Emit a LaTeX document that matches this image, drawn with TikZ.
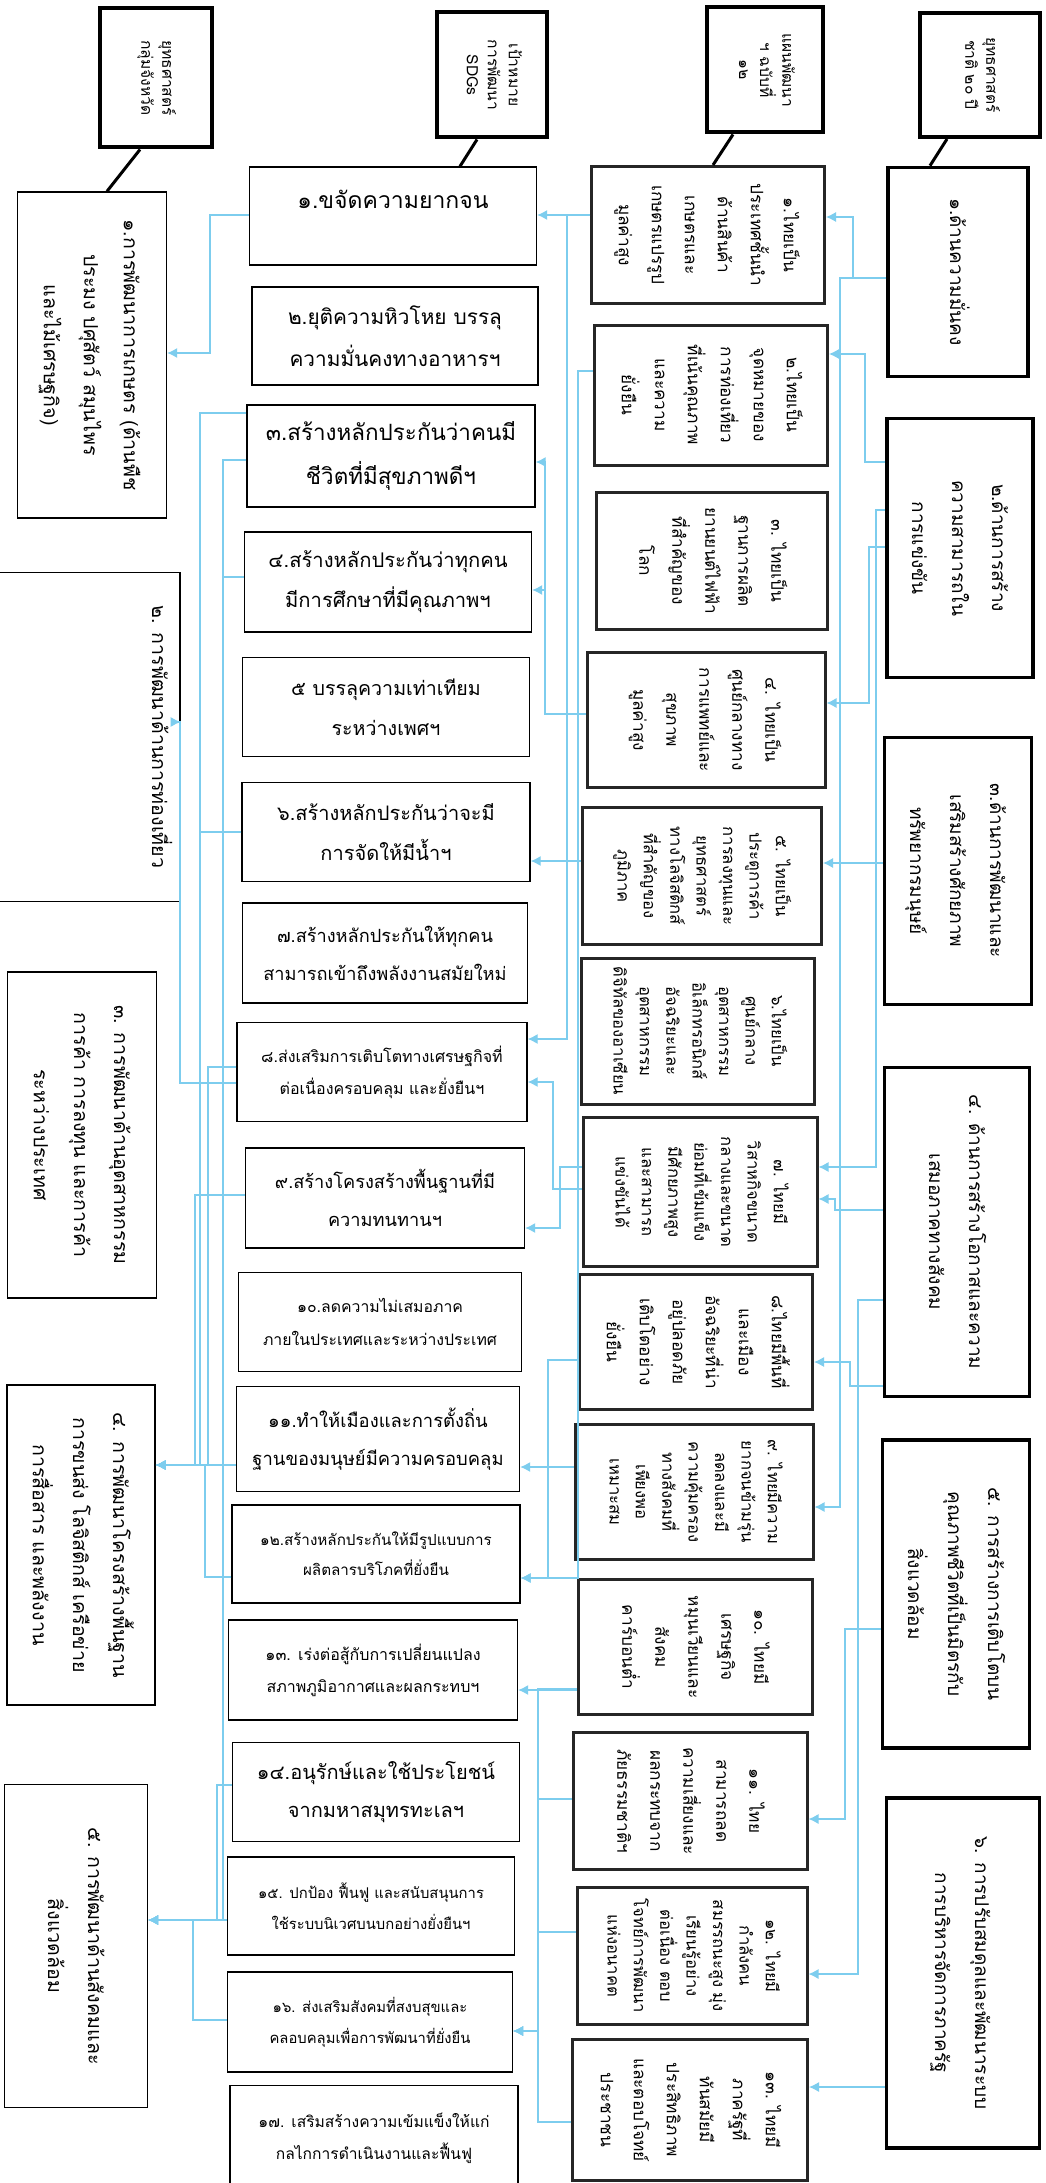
\documentclass[tikz,border=0pt]{standalone}
\usepackage{fontspec}
\usepackage{graphicx}
\newfontfamily\thaifont[Script=Thai]{Loma}
\usetikzlibrary{arrows.meta,calc}
\definecolor{linkblue}{RGB}{125,205,238}
\newcommand{\vtext}[1]{\rotatebox{-90}{\begin{tabular}{@{}c@{}}#1\end{tabular}}}
\newcommand{\tsz}[2]{\thaifont\fontsize{#1}{#2}\selectfont}
\tikzset{
  sz/.style 2 args={minimum width=#1*0.5pt, minimum height=#2*0.5pt},
  hdbox/.style={draw, line width=2pt, inner sep=0pt, font=\thaifont\fontsize{7.8}{10.5}\selectfont},
  stratbox/.style={draw, line width=1.8pt, inner sep=0pt, font=\thaifont\fontsize{9.5}{20}\selectfont},
  planbox/.style={draw=black!85, line width=1.5pt, inner sep=0pt, font=\thaifont\fontsize{8.6}{16.5}\selectfont},
  plansmall/.style={planbox, font=\thaifont\fontsize{8.3}{13.2}\selectfont},
  sdgbox/.style={draw, line width=0.7pt, inner sep=0pt, align=center},
  grpbox/.style={draw, line width=0.7pt, inner sep=0pt, font=\thaifont\fontsize{9.8}{20}\selectfont},
  link/.style={draw=linkblue, line width=0.6pt, -{Latex[length=5pt,width=5pt]}},
  hdline/.style={line width=1.5pt}
}
\begin{document}
\begin{tikzpicture}[x=0.5pt,y=-0.5pt]
  \useasboundingbox (0,0) rectangle (1045,2183);
  \fill[white] (0,0) rectangle (1045,2183);

  % headers
  \node[hdbox, sz={120}{124}] (hd1) at (980,75) {\vtext{ยุทธศาสตร์\\ชาติ ๒๐ ปี}};
  \node[hdbox, sz={116}{125}] (hd2) at (765,70) {\vtext{แผนพัฒนา\\ฯ ฉบับที่\\๑๒}};
  \node[hdbox, sz={110}{125}] (hd3) at (492,75) {\vtext{เป้าหมาย\\การพัฒนา\\SDGs}};
  \node[hdbox, sz={112}{139}] (hd4) at (156,78) {\vtext{ยุทธศาสตร์\\กลุ่มจังหวัด}};

  % national strategy
  \node[stratbox, sz={140}{209}] (s1) at (958,272) {\vtext{๑.ด้านความมั่นคง}};
  \node[stratbox, sz={146}{259}] (s2) at (960,548) {\vtext{๒.ด้านการสร้าง\\ความสามารถใน\\การแข่งขัน}};
  \node[stratbox, sz={147}{267}] (s3) at (958,871) {\vtext{๓.ด้านการพัฒนาและ\\เสริมสร้างศักยภาพ\\ทรัพยากรมนุษย์}};
  \node[stratbox, sz={145}{329}] (s4) at (957,1232) {\vtext{๔. ด้านการสร้างโอกาสและความ\\เสมอภาคทางสังคม}};
  \node[stratbox, sz={147}{308}] (s5) at (956,1594) {\vtext{๕. การสร้างการเติบโตบน\\คุณภาพชีวิตที่เป็นมิตรกับ\\สิ่งแวดล้อม}};
  \node[stratbox, sz={153}{350}] (s6) at (963,1973) {\vtext{๖. การปรับสมดุลและพัฒนาระบบ\\การบริหารจัดการภาครัฐ}};

  % plan 12
  \node[planbox, sz={233}{137}] (p1) at (708,235) {\vtext{๑.ไทยเป็น\\ประเทศชั้นนำ\\ด้านสินค้า\\เกษตรและ\\เกษตรแปรรูป\\มูลค่าสูง}};
  \node[planbox, sz={233}{140}] (p2) at (711,395) {\vtext{๒.ไทยเป็น\\จุดหมายของ\\การท่องเที่ยว\\ที่เน้นคุณภาพ\\และความ\\ยั่งยืน}};
  \node[planbox, sz={231}{137}] (p3) at (712,561) {\vtext{๓. ไทยเป็น\\ฐานการผลิต\\ยานยนต์ไฟฟ้า\\ที่สำคัญของ\\โลก}};
  \node[planbox, sz={238}{135}] (p4) at (706,720) {\vtext{๔. ไทยเป็น\\ศูนย์กลางทาง\\การแพทย์และ\\สุขภาพ\\มูลค่าสูง}};
  \node[plansmall, sz={239}{137}] (p5) at (702,876) {\vtext{๕. ไทยเป็น\\ประตูการค้า\\การลงทุนและ\\ยุทธศาสตร์\\ทางโลจิสติกส์\\ที่สำคัญของ\\ภูมิภาค}};
  \node[plansmall, sz={233}{146}] (p6) at (698,1031) {\vtext{๖.ไทยเป็น\\ศูนย์กลาง\\อุตสาหกรรม\\อิเล็กทรอนิกส์\\อัจฉริยะและ\\อุตสาหกรรม\\ดิจิทัลของอาเซียน}};
  \node[plansmall, sz={234}{149}] (p7) at (700,1192) {\vtext{๗. ไทยมี\\วิสาหกิจขนาด\\กลางและขนาด\\ย่อมที่เข้มแข็ง\\มีศักยภาพสูง\\และสามารถ\\แข่งขันได้}};
  \node[planbox, sz={233}{135}] (p8) at (696,1342) {\vtext{๘.ไทยมีพื้นที่\\และเมือง\\อัจฉริยะที่น่า\\อยู่ปลอดภัย\\เติบโตอย่าง\\ยั่งยืน}};
  \node[plansmall, sz={238}{135}] (p9) at (694,1492) {\vtext{๙. ไทยมีความ\\ยากจนข้ามรุ่น\\ลดลงและมี\\ความคุ้มครอง\\ทางสังคมที่\\เพียงพอ\\เหมาะสม}};
  \node[planbox, sz={234}{135}] (p10) at (695,1647) {\vtext{๑๐. ไทยมี\\เศรษฐกิจ\\หมุนเวียนและ\\สังคม\\คาร์บอนต่ำ}};
  \node[planbox, sz={234}{137}] (p11) at (690,1801) {\vtext{๑๑. ไทย\\สามารถลด\\ความเสี่ยงและ\\ผลกระทบจาก\\ภัยธรรมชาติฯ}};
  \node[plansmall, sz={230}{137}] (p12) at (692,1956) {\vtext{๑๒. ไทยมี\\กำลังคน\\สมรรถนะสูง มุ่ง\\เรียนรู้อย่าง\\ต่อเนื่อง ตอบ\\โจทย์การพัฒนา\\แห่งอนาคต}};
  \node[planbox, sz={235}{141}] (p13) at (690,2110) {\vtext{๑๓. ไทยมี\\ภาครัฐที่\\ทันสมัยมี\\ประสิทธิภาพ\\และตอบโจทย์\\ประชาชน}};

  % SDGs
  \node[sdgbox, sz={287}{98}, font=\tsz{11.5}{21}, text depth=17pt] (g1) at (393,216) {๑.ขจัดความยากจน};
  \node[sdgbox, sz={286}{98}, font=\tsz{10.4}{21}] (g2) at (395,336) {๒.ยุติความหิวโหย บรรลุ\\ความมั่นคงทางอาหารฯ};
  \node[sdgbox, sz={288}{102}, font=\tsz{11.2}{22}] (g3) at (391,456) {๓.สร้างหลักประกันว่าคนมี\\ชีวิตที่มีสุขภาพดีฯ};
  \node[sdgbox, sz={287}{100}, font=\tsz{10.1}{20}] (g4) at (388,582) {๔.สร้างหลักประกันว่าทุกคน\\มีการศึกษาที่มีคุณภาพฯ};
  \node[sdgbox, sz={287}{99}, font=\tsz{9.8}{20}] (g5) at (386,707) {๕ บรรลุความเท่าเทียม\\ระหว่างเพศฯ};
  \node[sdgbox, sz={288}{99}, font=\tsz{10}{20}] (g6) at (386,832) {๖.สร้างหลักประกันว่าจะมี\\การจัดให้มีน้ำฯ};
  \node[sdgbox, sz={285}{100}, font=\tsz{9.1}{19}] (g7) at (385,953) {๗.สร้างหลักประกันให้ทุกคน\\สามารถเข้าถึงพลังงานสมัยใหม่};
  \node[sdgbox, sz={290}{99}, font=\tsz{8}{16}] (g8) at (382,1072) {๘.ส่งเสริมการเติบโตทางเศรษฐกิจที่\\ต่อเนื่องครอบคลุม และยั่งยืนฯ};
  \node[sdgbox, sz={279}{100}, font=\tsz{9.1}{19}] (g9) at (385,1198) {๙.สร้างโครงสร้างพื้นฐานที่มี\\ความทนทานฯ};
  \node[sdgbox, sz={283}{99}, font=\tsz{7.9}{16.5}] (g10) at (380,1322) {๑๐.ลดความไม่เสมอภาค\\ภายในประเทศและระหว่างประเทศ};
  \node[sdgbox, sz={283}{105}, font=\tsz{9.2}{19}] (g11) at (378,1439) {๑๑.ทำให้เมืองและการตั้งถิ่น\\ฐานของมนุษย์มีความครอบคลุม};
  \node[sdgbox, sz={288}{98}, font=\tsz{7.6}{15}] (g12) at (376,1554) {๑๒.สร้างหลักประกันให้มีรูปแบบการ\\ผลิตลารบริโภคที่ยั่งยืน};
  \node[sdgbox, sz={289}{100}, font=\tsz{8}{16}] (g13) at (373,1670) {๑๓. เร่งต่อสู้กับการเปลี่ยนแปลง\\สภาพภูมิอากาศและผลกระทบฯ};
  \node[sdgbox, sz={287}{99}, font=\tsz{10}{19}] (g14) at (376,1792) {๑๔.อนุรักษ์และใช้ประโยชน์\\จากมหาสมุทรทะเลฯ};
  \node[sdgbox, sz={287}{98}, font=\tsz{7.4}{15.5}] (g15) at (371,1906) {๑๕. ปกป้อง ฟื้นฟู และสนับสนุนการ\\ใช้ระบบนิเวศบนบกอย่างยั่งยืนฯ};
  \node[sdgbox, sz={285}{100}, font=\tsz{7.4}{15.5}] (g16) at (370,2022) {๑๖. ส่งเสริมสังคมที่สงบสุขและ\\คลอบคลุมเพื่อการพัฒนาที่ยั่งยืน};
  \node[sdgbox, sz={288}{105}, font=\tsz{7.8}{16}] (g17) at (374,2138) {๑๗. เสริมสร้างความเข้มแข็งให้แก่\\กลไกการดำเนินงานและฟื้นฟู};

  % province group strategy
  \node[grpbox, sz={149}{326}] (grp1) at (92,355) {\vtext{๑.การพัฒนาการเกษตร (ด้านพืช\\ประมง ปศุสัตว์ สมุนไพร\\และไม้เศรษฐกิจ)}};
  \node[grpbox, sz={150}{329}] (grp2) at (80,737) {\vtext{๒. การพัฒนาด้านการท่องเที่ยว\\[80pt]}};
  \node[grpbox, sz={149}{326}] (grp3) at (82,1135) {\vtext{๓. การพัฒนาด้านอุตสาหกรรม\\การค้า การลงทุน และการค้า\\ระหว่างประเทศ}};
  \node[grpbox, sz={148}{320}] (grp4) at (81,1545) {\vtext{๔. การพัฒนาโครงสร้างพื้นฐาน\\การขนส่ง โลจิสติกส์ เครือข่าย\\การสื่อสาร และพลังงาน}};
  \node[grpbox, sz={143}{323}] (grp5) at (76,1946) {\vtext{๕. การพัฒนาด้านสังคมและ\\สิ่งแวดล้อม}};

  \draw[hdline] ($(hd1.south)+(-33,0)$) -- ($(s1.north)+(-28,0)$);
  \draw[hdline] ($(hd2.south)+(-32,0)$) -- ($(p1.north)+(5,0)$);
  \draw[hdline] ($(hd3.south)+(-15,0)$) -- ($(g1.north)+(67,0)$);
  \draw[hdline] ($(hd4.south)+(-16,0)$) -- ($(grp1.north)+(15,0)$);

  % strategy -> plan
  \draw[link] (s1.west |- 0,278) -- (853,278) |- (p1.east |- 0,217);
  \draw[link] (s1.west |- 0,278) -- (840,278) |- (p9.east |- 0,1507);
  \draw[link] (s2.west |- 0,462) -- (865,462) |- (p2.east |- 0,354);
  \draw[link] (s2.west |- 0,547) -- (869,547) |- (p4.east |- 0,703);
  \draw[link] (s2.west |- 0,510) -- (876,510) |- (p7.east |- 0,1167);
  \draw[link] (s3.west |- 0,863) -- (p5.east |- 0,863);
  \draw[link] (s4.west |- 0,1210) -- (835,1210) |- (p7.east |- 0,1199);
  \draw[link] (s4.west |- 0,1386) -- (850,1386) |- (p8.east |- 0,1362);
  \draw[link] (s4.west |- 0,1300) -- (858,1300) |- (p12.east |- 0,1974);
  \draw[link] (s5.west |- 0,1629) -- (845,1629) |- (p11.east |- 0,1819);
  \draw[link] (s6.west |- 0,2087) -- (p13.east |- 0,2087);

  % plan -> SDGs
  \draw[link] (p1.west |- 0,215) -- (g1.east |- 0,215);
  \draw[link] (p1.west |- 0,215) -- (567,215) |- (g8.east |- 0,1039);
  \draw[link] (p2.west |- 0,371) -- (578,371) |- (g12.east |- 0,1578);
  \draw[link] (p4.west |- 0,714) -- (545,714) |- (g3.east |- 0,462);
  \draw[link] (p4.west |- 0,714) -- (545,714) |- (g4.east |- 0,590);
  \draw[link] (p5.west |- 0,861) -- (g6.east |- 0,861);
  \draw[link] (p7.west |- 0,1189) -- (553,1189) |- (g8.east |- 0,1082);
  \draw[link] (p7.west |- 0,1167) -- (560,1167) |- (g9.east |- 0,1228);
  \draw[link] (p8.west |- 0,1360) -- (548,1360) |- (g12.east |- 0,1578);
  \draw[link] (p9.west |- 0,1467) -- (g11.east |- 0,1467);
  \draw[link] (p10.west |- 0,1690) -- (g13.east |- 0,1690);
  \foreach \pp/\yy in {p10/1689,p11/1799,p12/1932,p13/2122}
    \draw[link] (\pp.west |- 0,\yy) -- (538,\yy) |- (g16.east |- 0,2031);

  % SDGs -> group strategy
  \draw[link] (g1.west |- 0,215) -- (210,215) |- (grp1.east |- 0,353);
  \draw[link] (g8.west |- 0,1083) -- (180,1083) |- (grp2.east |- 0,722);
  \draw[link] (g11.west |- 0,1465) -- (grp4.east |- 0,1465);
  \foreach \sd/\yy/\bx in {g3/413/200,g6/832/200,g8/1067/208,g9/1195/195,g12/1577/205}
    \draw[link] (\sd.west |- 0,\yy) -- (\bx,\yy) |- (grp4.east |- 0,1465);
  \draw[link] (g15.west |- 0,1920) -- (grp5.east |- 0,1920);
  \foreach \sd/\yy/\bx in {g3/460/223,g4/577/223,g14/1785/217,g16/2020/193}
    \draw[link] (\sd.west |- 0,\yy) -- (\bx,\yy) |- (grp5.east |- 0,1920);
\end{tikzpicture}
\end{document}
